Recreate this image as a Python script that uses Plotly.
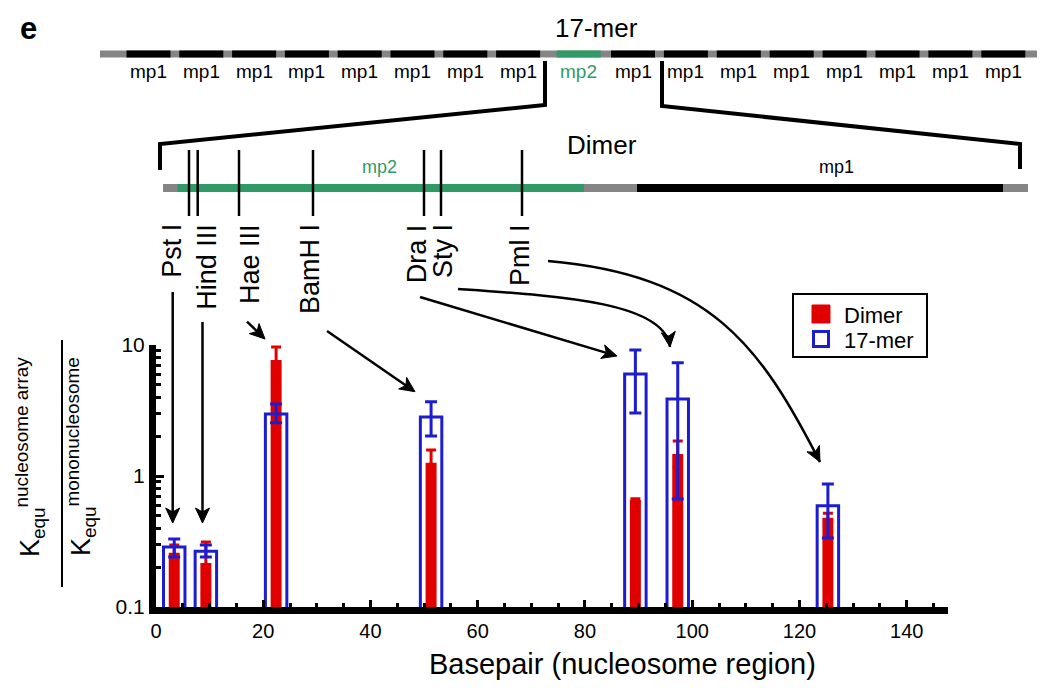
import math
import plotly.graph_objects as go

# ---------------- data ----------------
enzymes = ["Pst I", "Hind III", "Hae III", "BamH I", "Dra I", "Sty I", "Pml I"]
site_bp = [3.4, 9.3, 22.4, 51.3, 89.4, 97.3, 125.3]

dimer_val = [0.26, 0.217, 7.67, 1.26, 0.656, 1.47, 0.48]
dimer_hi = [0.297, 0.313, 9.66, 1.58, 0.67, 1.85, 0.52]
dimer_lo = [0.24, 0.124, 6.1, 0.97, 0.64, 1.17, 0.44]

mer17_val = [0.287, 0.267, 2.97, 2.82, 6.0, 3.87, 0.593]
mer17_hi = [0.33, 0.297, 3.55, 3.69, 9.17, 7.33, 0.87]
mer17_lo = [0.241, 0.241, 2.55, 2.02, 3.03, 0.667, 0.336]

x_tick_vals = [0, 20, 40, 60, 80, 100, 120, 140]
y_tick_vals = [0.1, 1, 10]
y_tick_text = ["0.1", "1", "10"]
y_minor_vals = [0.2, 0.3, 0.4, 0.5, 0.6, 0.7, 0.8, 0.9, 2, 3, 4, 5, 6, 7, 8, 9]

segment_labels = ["mp1"] * 8 + ["mp2"] + ["mp1"] * 8
legend_names = ["Dimer", "17-mer"]

# ---------------- styles / layout geometry ----------------
FONT = "Liberation Sans, Arial, sans-serif"
RED = "#e00000"
BLUE = "#1c1cd0"
GREEN = "#2f9a66"
GRAY = "#858585"
DIMER_BAR_WIDTH = 2.05
MER_BAR_WIDTH = 4.0

PAGE_MARGIN = 8                     # browser body margin
FIG_W, FIG_H = 1050 - 2 * PAGE_MARGIN, 696 - 2 * PAGE_MARGIN
SL, ST, W, H = 156, 345, 792, 262   # plot area in screen pixels
L, T = SL - PAGE_MARGIN, ST - PAGE_MARGIN


def P(x, y):
    """screen pixel -> paper coordinates"""
    return (x - SL) / W, (ST + H - y) / H


shapes = []
annotations = []


def add_line(x0, y0, x1, y1, color="black", width=2):
    a, b = P(x0, y0)
    c, d = P(x1, y1)
    shapes.append(dict(type="line", xref="paper", yref="paper", x0=a, y0=b, x1=c, y1=d,
                       line=dict(color=color, width=width), layer="above"))


def poly_path(points, close=False):
    s = ""
    for i, (x, y) in enumerate(points):
        a, b = P(x, y)
        s += ("M" if i == 0 else "L") + f"{a:.5f},{b:.5f} "
    return s.strip() + (" Z" if close else "")


def add_poly(points, color="black", width=4):
    shapes.append(dict(type="path", xref="paper", yref="paper", path=poly_path(points),
                       line=dict(color=color, width=width), layer="above"))


def add_rect(x0, y0, x1, y1, fill, line_color, width):
    shapes.append(dict(type="path", xref="paper", yref="paper",
                       path=poly_path([(x0, y0), (x1, y0), (x1, y1), (x0, y1)], close=True),
                       fillcolor=fill, line=dict(color=line_color, width=width), layer="above"))


def add_head(direction_from, tip, length=15, half=7, notch=4):
    dx, dy = tip[0] - direction_from[0], tip[1] - direction_from[1]
    n = math.hypot(dx, dy)
    ux, uy = dx / n, dy / n
    px_, py_ = -uy, ux
    pts = [tip,
           (tip[0] - length * ux + half * px_, tip[1] - length * uy + half * py_),
           (tip[0] - (length - notch) * ux, tip[1] - (length - notch) * uy),
           (tip[0] - length * ux - half * px_, tip[1] - length * uy - half * py_)]
    shapes.append(dict(type="path", xref="paper", yref="paper", path=poly_path(pts, close=True),
                       fillcolor="black", line=dict(color="black", width=1), layer="above"))
    return (tip[0] - (length - notch) * ux, tip[1] - (length - notch) * uy)


def add_arrow(tail, tip, width=2.5):
    end = add_head(tail, tip)
    add_line(tail[0], tail[1], end[0], end[1], "black", width)


def add_curve_arrow(p0, c1, c2, p3, width=2.5):
    pts = [P(*p) for p in (p0, c1, c2, p3)]
    s = (f"M{pts[0][0]:.5f},{pts[0][1]:.5f} C{pts[1][0]:.5f},{pts[1][1]:.5f} "
         f"{pts[2][0]:.5f},{pts[2][1]:.5f} {pts[3][0]:.5f},{pts[3][1]:.5f}")
    shapes.append(dict(type="path", xref="paper", yref="paper", path=s,
                       line=dict(color="black", width=width), layer="above"))
    add_head(c2, p3)


def add_text(x, y, text, size, color="black", angle=0, xanchor="center", yanchor="middle"):
    a, b = P(x, y)
    annotations.append(dict(x=a, y=b, xref="paper", yref="paper", text=text, showarrow=False,
                            textangle=angle, xanchor=xanchor, yanchor=yanchor,
                            font=dict(family=FONT, size=size, color=color)))


# ---- panel letter and 17-mer diagram ----
add_text(28, 8.5, "<b>e</b>", 31, yanchor="top")
add_text(596, 28, "17-mer", 26)
add_line(100, 54, 1037, 54, GRAY, 7)
seg_starts = [126.5 + 52.8 * i for i in range(8)] + [556.7] + [611 + 52.9 * i for i in range(8)]
for s, lab in zip(seg_starts, segment_labels):
    col = GREEN if lab == "mp2" else "black"
    add_line(s, 54, s + 44, 54, col, 7)
    add_text(s + 22, 72, lab, 19, col)

# brackets
add_poly([(545, 61), (545, 105), (160, 144), (160, 170)], width=4)
add_poly([(662, 61), (662, 106), (1020, 144), (1020, 169)], width=4)

# ---- dimer diagram ----
add_text(602, 145, "Dimer", 26)
add_line(163, 188, 1028, 188, GRAY, 8)
add_line(177.5, 188, 584, 188, GREEN, 8)
add_line(637, 188, 1003, 188, "black", 8)
add_text(379, 167, "mp2", 18, GREEN)
add_text(836, 167, "mp1", 18)
site_line_x = [189, 197.7, 239, 313, 424, 441, 522]
for sx in site_line_x:
    add_line(sx, 150, sx, 216, "black", 2.5)

label_x = [171.7, 206.7, 250, 310, 416.7, 443, 520]
for lx, name in zip(label_x, enzymes):
    add_text(lx, 222, name, 27, angle=-90, yanchor="top")

# ---- arrows ----
add_arrow((172.7, 292), (172.7, 523))
add_arrow((202.5, 322), (202.5, 523))
add_arrow((247, 321.7), (265, 339))
add_arrow((327, 331), (415, 391.7))
add_arrow((420, 297), (617, 356))
add_curve_arrow((458, 289), (560, 296), (665, 302), (670, 347))     # Sty I
add_curve_arrow((548, 261), (710, 275), (760, 345), (820, 462))     # Pml I

# ---- y axis title (fraction) ----
add_text(30, 457, "K<sub>equ</sub><sup>nucleosome array</sup>", 27, angle=-90)
add_text(81, 457, "K<sub>equ</sub><sup>mononucleosome</sup>", 27, angle=-90)
add_line(62, 340, 62, 587, "black", 2)

# ---- x axis title ----
add_text(622, 664, "Basepair (nucleosome region)", 29)

# ---- legend box ----
add_rect(793, 294, 927, 357, "white", "black", 2)
add_rect(812, 305, 830, 323, RED, RED, 1)
add_rect(813.5, 331.5, 828.5, 346.5, "rgba(0,0,0,0)", BLUE, 3)
add_text(842, 315, legend_names[0], 22, xanchor="left")
add_text(842, 340, legend_names[1], 22, xanchor="left")

# ---------------- traces ----------------
fig = go.Figure()
fig.add_trace(go.Bar(
    x=site_bp, y=dimer_val, width=DIMER_BAR_WIDTH, name=legend_names[0], showlegend=False,
    marker=dict(color=RED, line=dict(width=0)),
    error_y=dict(type="data", symmetric=False,
                 array=[h - v for h, v in zip(dimer_hi, dimer_val)],
                 arrayminus=[v - l for v, l in zip(dimer_val, dimer_lo)],
                 color=RED, thickness=3, width=5),
))
fig.add_trace(go.Bar(
    x=site_bp, y=mer17_val, width=MER_BAR_WIDTH, name=legend_names[1], showlegend=False,
    marker=dict(color="rgba(0,0,0,0)", line=dict(color=BLUE, width=3)),
    error_y=dict(type="data", symmetric=False,
                 array=[h - v for h, v in zip(mer17_hi, mer17_val)],
                 arrayminus=[v - l for v, l in zip(mer17_val, mer17_lo)],
                 color=BLUE, thickness=3, width=6),
))

fig.update_layout(
    width=FIG_W, height=FIG_H,
    margin=dict(l=L, r=FIG_W - L - W, t=T, b=FIG_H - T - H, pad=0),
    paper_bgcolor="white", plot_bgcolor="white",
    barmode="overlay", showlegend=False,
    font=dict(family=FONT, size=20, color="black"),
    shapes=shapes, annotations=annotations,
    xaxis=dict(range=[0, 147.7], tickvals=x_tick_vals, ticks="inside", ticklen=7, tickwidth=3,
               tickcolor="black", showline=True, linewidth=7, linecolor="black",
               showgrid=False, zeroline=False, tickfont=dict(size=20),
               minor=dict(dtick=5, tick0=0, ticks="inside", ticklen=4, tickwidth=2.5,
                          tickcolor="black", showgrid=False)),
    yaxis=dict(type="log", range=[-1, 1], tickvals=y_tick_vals, ticktext=y_tick_text,
               ticks="inside", ticklen=8, tickwidth=3, tickcolor="black",
               showline=True, linewidth=7, linecolor="black", showgrid=False, zeroline=False,
               tickfont=dict(size=21),
               minor=dict(tickvals=y_minor_vals, ticks="inside", ticklen=5, tickwidth=2.5,
                          tickcolor="black", showgrid=False)),
)

fig.write_html("out.html")
